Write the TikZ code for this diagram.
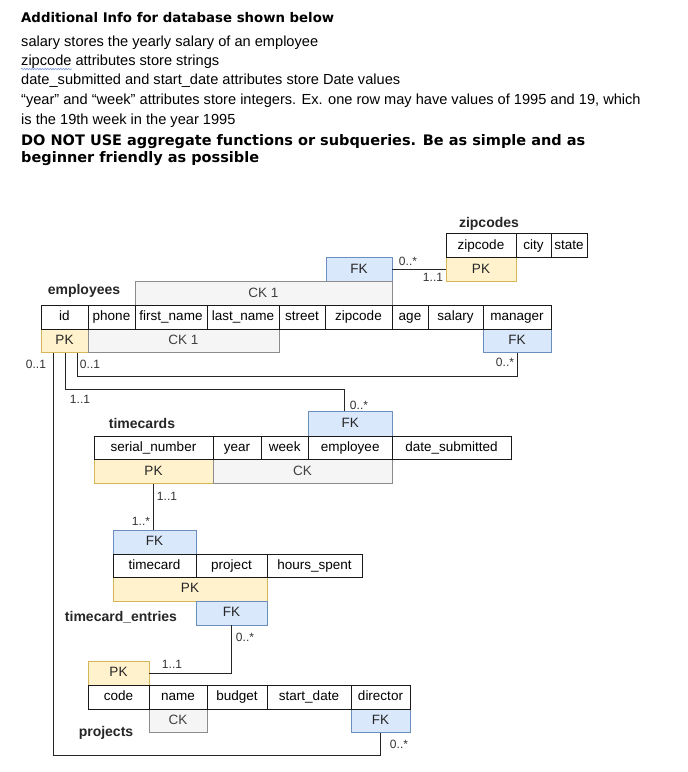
\documentclass[tikz,border=0pt]{standalone}
\usepackage{fontspec}
\setmainfont{Liberation Sans}
\newfontfamily\vfont{DejaVu Sans}
\usetikzlibrary{decorations.pathmorphing}
\definecolor{pkfill}{HTML}{FFF2CC}
\definecolor{pkdraw}{HTML}{D6B656}
\definecolor{fkfill}{HTML}{DAE8FC}
\definecolor{fkdraw}{HTML}{6C8EBF}
\definecolor{ckfill}{HTML}{F5F5F5}
\definecolor{ckdraw}{HTML}{8C8C8C}
\definecolor{cktext}{HTML}{404040}
\definecolor{multtext}{HTML}{333333}
\definecolor{spell}{HTML}{7A9AD6}
\newcommand\cell[7]{\node[#6, minimum width={(#4)-(#2)}, minimum height={(#5)-(#3)}] (#1) at ({((#2)+(#4))/2},{((#3)+(#5))/2}) {#7};}
\tikzset{
  cellbase/.style={inner sep=0pt, font=\fontsize{13.5}{16}\selectfont, text height=9.5pt, text depth=2.5pt},
  attr/.style={cellbase, draw=black!90, fill=white, line width=1pt},
  pk/.style={cellbase, draw=pkdraw, fill=pkfill, line width=0.9pt, text=black!85},
  fk/.style={cellbase, draw=fkdraw, fill=fkfill, line width=0.9pt, text=black!85},
  ck/.style={cellbase, draw=ckdraw, fill=ckfill, line width=0.9pt, text=cktext},
  title/.style={font=\bfseries\fontsize{14}{16}\selectfont, inner sep=0pt, anchor=base, text=black!85},
  mult/.style={font=\fontsize{12}{14}\selectfont, text=multtext, inner sep=0pt},
  conn/.style={line width=1pt, draw=black!85},
  infotitle/.style={font=\vfont\bfseries\fontsize{13.3}{15}\selectfont, inner sep=0pt, anchor=base west},
  infoline/.style={font=\fontsize{14.6}{17}\selectfont, inner sep=0pt, anchor=base west},
  infobold/.style={font=\vfont\bfseries\fontsize{14.5}{18}\selectfont, inner sep=0pt, anchor=base west},
}
\begin{document}
\begin{tikzpicture}[x=1pt,y=-1pt]
\fill[white] (0,0) rectangle (688,772);
\useasboundingbox (0,0) rectangle (688,772);

% info text
\node[infotitle] (i0) at (21,22.7) {Additional Info for database shown below};
\node[infoline] (i1) at (21,46.7) {salary stores the yearly salary of an employee};
\node[infoline] (i2) at (21,65) {zipcode attributes store strings};
\node[infoline] (i3) at (21,84.3) {date\_submitted and start\_date attributes store Date values};
\node[infoline] (i4) at (21,104) {“year” and “week” attributes store integers. Ex. one row may have values of 1995 and 19, which};
\node[infoline] (i5) at (21,124) {is the 19th week in the year 1995};
\node[infobold] (i6) at (21,145) {DO NOT USE aggregate functions or subqueries. Be as simple and as};
\node[infobold] (i7) at (21,162.3) {beginner friendly as possible};
\draw[spell, line width=0.6pt, decorate, decoration={snake, amplitude=0.7pt, segment length=2.6pt}]
  ([yshift=-4pt]i2.base west) -- ([xshift=51pt,yshift=-4pt]i2.base west);

% zipcodes
\node[title] (tz) at (489,227) {zipcodes};
\cell{zpk}{446}{257.5}{516}{281.5}{pk}{PK}
\cell{zzip}{446}{233.5}{516}{257.5}{attr}{zipcode}
\cell{zcity}{516}{233.5}{551}{257.5}{attr}{city}
\cell{zstate}{551}{233.5}{587}{257.5}{attr}{state}

% employees
\node[title] (te) at (84,294) {employees};
\cell{ezfk}{326}{257.5}{392}{281.5}{fk}{FK}
\cell{eckt}{135}{281.5}{392}{305.5}{ck}{CK 1}
\cell{epk}{41}{329}{88}{352.5}{pk}{PK}
\cell{eckb}{88}{329}{279}{352.5}{ck}{CK 1}
\cell{mfk}{483}{329}{551}{352.5}{fk}{FK}
\cell{eid}{41}{305.5}{88}{329}{attr}{id}
\cell{ephone}{88}{305.5}{135}{329}{attr}{phone}
\cell{efirst}{135}{305.5}{207}{329}{attr}{first\_name}
\cell{elast}{207}{305.5}{279}{329}{attr}{last\_name}
\cell{estreet}{279}{305.5}{325}{329}{attr}{street}
\cell{ezip}{325}{305.5}{392}{329}{attr}{zipcode}
\cell{eage}{392}{305.5}{428}{329}{attr}{age}
\cell{esal}{428}{305.5}{483}{329}{attr}{salary}
\cell{eman}{483}{305.5}{551}{329}{attr}{manager}

% timecards
\node[title] (tt) at (142,428.3) {timecards};
\cell{tfk}{308.5}{411.5}{392}{436}{fk}{FK}
\cell{tpk}{94}{459.5}{213}{483.5}{pk}{PK}
\cell{tck}{213}{459.5}{392}{483.5}{ck}{CK}
\cell{tser}{94}{436}{213}{459.5}{attr}{serial\_number}
\cell{tyear}{213}{436}{261}{459.5}{attr}{year}
\cell{tweek}{261}{436}{308.5}{459.5}{attr}{week}
\cell{temp}{308.5}{436}{392}{459.5}{attr}{employee}
\cell{tdate}{392}{436}{511}{459.5}{attr}{date\_submitted}

% timecard_entries
\node[title] (tte) at (121,621.7) {timecard\_entries};
\cell{tefk}{113}{530.5}{196}{554}{fk}{FK}
\cell{tepk}{113}{577.5}{267}{601}{pk}{PK}
\cell{tefkb}{196}{601}{267}{625}{fk}{FK}
\cell{tetime}{113}{554}{196}{577.5}{attr}{timecard}
\cell{teproj}{196}{554}{267}{577.5}{attr}{project}
\cell{tehours}{267}{554}{362}{577.5}{attr}{hours\_spent}

% projects
\node[title] (tp) at (106,736.7) {projects};
\cell{ppk}{88}{661.5}{149}{685}{pk}{PK}
\cell{pck}{149}{709}{207}{732.5}{ck}{CK}
\cell{pfk}{351}{709}{410}{732.5}{fk}{FK}
\cell{pcode}{88}{685}{149}{709}{attr}{code}
\cell{pname}{149}{685}{207}{709}{attr}{name}
\cell{pbud}{207}{685}{267}{709}{attr}{budget}
\cell{pstart}{267}{685}{351}{709}{attr}{start\_date}
\cell{pdir}{351}{685}{410}{709}{attr}{director}

% connectors
\draw[conn] (ezfk.east) -- (zpk.west);
\draw[conn] (mfk.south) -- ++(0,23.5) -| ([xshift=12.5pt]epk.south);
\draw[conn] ([xshift=1pt]epk.south) -- ++(0,36.5) -| ([xshift=-5.5pt]tfk.north);
\draw[conn] ([xshift=-11pt]epk.south) -- ++(0,403) -| (pfk.south);
\draw[conn] (tpk.south) -- (tpk.south |- tefk.north);
\draw[conn] (tefkb.south) |- (ppk.east);

% multiplicities
\node[mult] (m1) at (408,261) {0..*};
\node[mult] (m2) at (433,277.5) {1..1};
\node[mult] (m3) at (505,362) {0..*};
\node[mult] (m4) at (90,364) {0..1};
\node[mult] (m5) at (36,364) {0..1};
\node[mult] (m6) at (80,399) {1..1};
\node[mult] (m7) at (359,405) {0..*};
\node[mult] (m8) at (167,496) {1..1};
\node[mult] (m9) at (141,521) {1..*};
\node[mult] (m10) at (245,637) {0..*};
\node[mult] (m11) at (172,664) {1..1};
\node[mult] (m12) at (399,744) {0..*};
\end{tikzpicture}
\end{document}
